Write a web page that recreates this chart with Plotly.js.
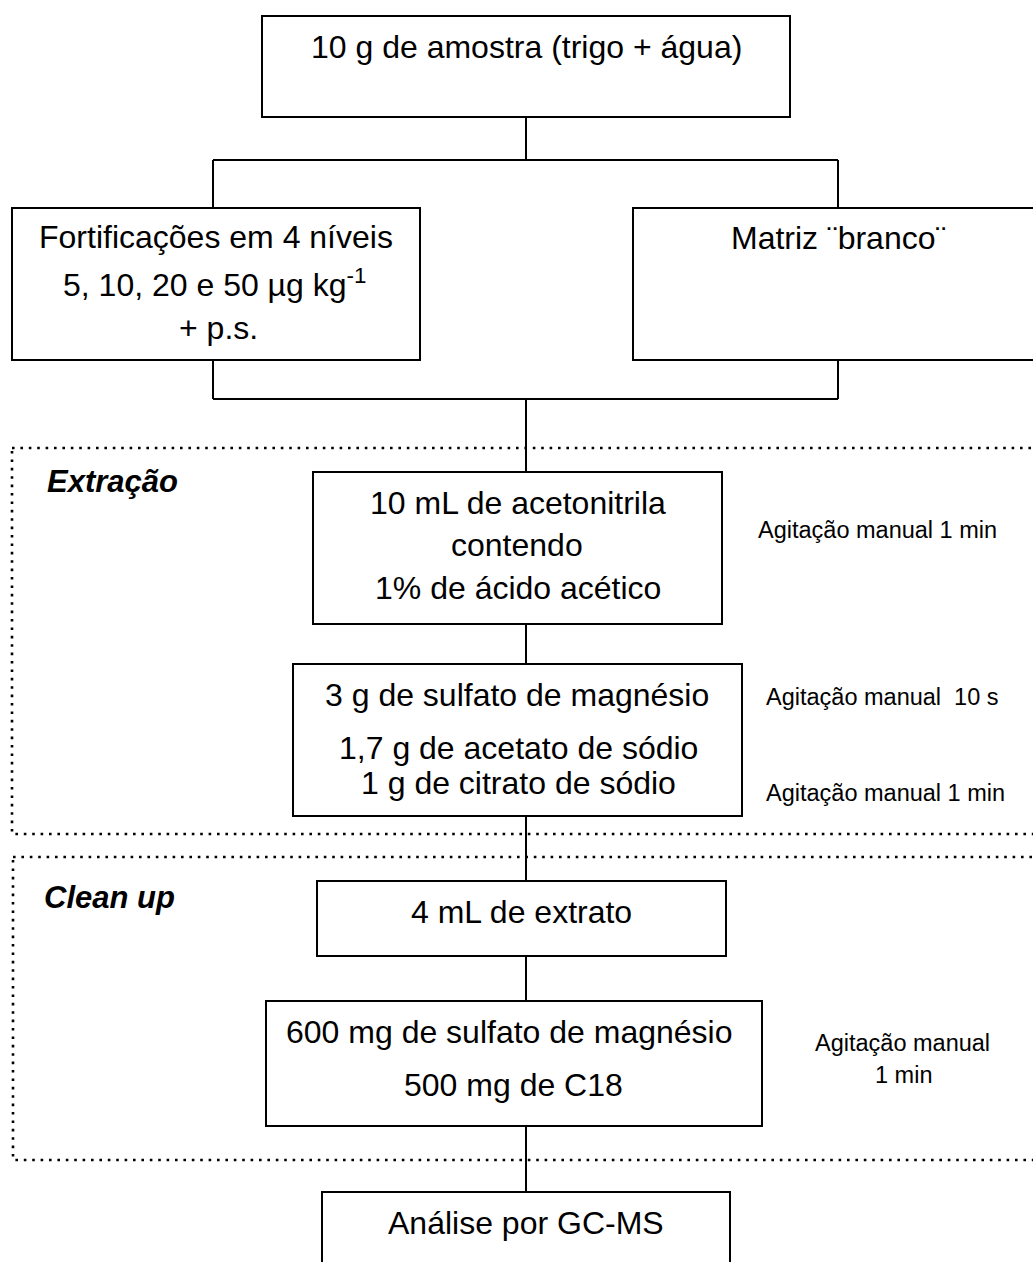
<!DOCTYPE html>
<html>
<head>
<meta charset="utf-8">
<script src="https://cdn.plot.ly/plotly-3.0.1.min.js"></script>
<style>html,body{margin:0;padding:0;background:#fff;}#chart{width:1033px;height:1262px;}</style>
</head>
<body>
<div id="chart"></div>
<script>
// ---- content (text of each step) ----
const stepLines = [
  ["10 g de amostra (trigo + água)"],
  ["Fortificações em 4 níveis", "5, 10, 20 e 50 µg kg<sup>-1</sup>", "+ p.s."],
  ["Matriz \u00A8branco\u00A8"],
  ["10 mL de acetonitrila", "contendo", "1% de ácido acético"],
  ["3 g de sulfato de magnésio", "1,7 g de acetato de sódio", "1 g de citrato de sódio"],
  ["4 mL de extrato"],
  ["600 mg de sulfato de magnésio", "500 mg de C18"],
  ["Análise por GC-MS"]
];
const sideNotes = ["Agitação manual 1 min", "Agitação manual \u00A010 s", "Agitação manual 1 min", "Agitação manual", "1 min"];
const stageNames = ["Extração", "Clean up"];

// ---- diagram geometry (pixels of the page) ----
const boxGeom = [
  [262, 790, 16, 117],
  [12, 420, 208, 360],
  [633, 1040, 208, 360],
  [313, 722, 472, 624],
  [293, 742, 664, 816],
  [317, 726, 881, 956],
  [266, 762, 1001, 1126],
  [322, 730, 1192, 1275]
];
const lineCenters = [
  [[526, 47]],
  [[216, 237], [214, 283], [218, 328]],
  [[838, 238]],
  [[518, 503], [517, 545], [518, 588]],
  [[517, 695], [518, 748], [518, 783]],
  [[521, 912]],
  [[509, 1032], [513, 1085]],
  [[526, 1223]]
];
const notePos = [[877, 530], [882, 697], [885, 793], [902, 1043], [903, 1075]];
const stageBoxes = [[12, 1040, 448, 834], [13, 1040, 857, 1160]];
const stagePos = [[45, 481], [42, 897]];
const connectors = [
  [[526, 117], [526, 160]],
  [[213, 160], [838, 160]],
  [[213, 160], [213, 208]],
  [[838, 160], [838, 208]],
  [[213, 360], [213, 399]],
  [[838, 360], [838, 399]],
  [[213, 399], [838, 399]],
  [[526, 399], [526, 472]],
  [[526, 624], [526, 664]],
  [[526, 816], [526, 881]],
  [[526, 956], [526, 1001]],
  [[526, 1126], [526, 1192]]
];

const FONT = "Liberation Sans, Arial, Helvetica, sans-serif";
const shapes = [];
const annotations = [];

stageBoxes.forEach(b => {
  shapes.push({type: "rect", xref: "x", yref: "y", x0: b[0], x1: b[1], y0: b[2], y1: b[3],
    line: {color: "#000", width: 2.6, dash: "2.6px,5.8px"}, fillcolor: "rgba(0,0,0,0)", layer: "below"});
});
connectors.forEach(c => {
  shapes.push({type: "line", xref: "x", yref: "y", x0: c[0][0], y0: c[0][1], x1: c[1][0], y1: c[1][1],
    line: {color: "#000", width: 2}});
});
boxGeom.forEach(b => {
  shapes.push({type: "rect", xref: "x", yref: "y", x0: b[0], x1: b[1], y0: b[2], y1: b[3],
    line: {color: "#000", width: 2}, fillcolor: "#fff"});
});

stepLines.forEach((lines, i) => {
  lines.forEach((t, j) => {
    const p = lineCenters[i][j];
    annotations.push({xref: "x", yref: "y", x: p[0], y: p[1], text: t, showarrow: false,
      xanchor: "center", yanchor: "middle", font: {family: FONT, size: 32, color: "#000"}});
  });
});
sideNotes.forEach((t, i) => {
  annotations.push({xref: "x", yref: "y", x: notePos[i][0], y: notePos[i][1], text: t, showarrow: false,
    xanchor: "center", yanchor: "middle", font: {family: FONT, size: 23.5, color: "#000"}});
});
stageNames.forEach((t, i) => {
  annotations.push({xref: "x", yref: "y", x: stagePos[i][0], y: stagePos[i][1], text: t, showarrow: false,
    xanchor: "left", yanchor: "middle", font: {family: FONT, size: 31, color: "#000", weight: "bold", style: "italic"}});
});

const layout = {
  width: 1033, height: 1262,
  margin: {l: 0, r: 0, t: 0, b: 0, pad: 0},
  paper_bgcolor: "#fff", plot_bgcolor: "#fff",
  showlegend: false,
  xaxis: {range: [0, 1033], visible: false, fixedrange: true},
  yaxis: {range: [1262, 0], visible: false, fixedrange: true},
  shapes: shapes,
  annotations: annotations
};
Plotly.newPlot("chart", [], layout, {staticPlot: true, displayModeBar: false});
</script>
</body>
</html>
